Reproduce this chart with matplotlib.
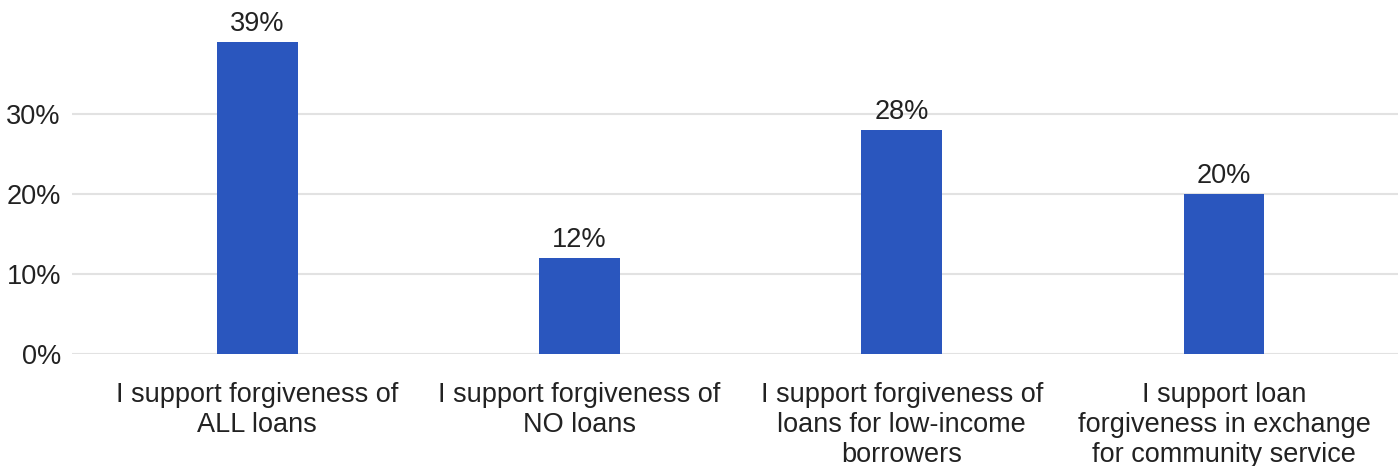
import matplotlib.pyplot as plt

# Survey responses on student loan forgiveness
categories = [
    "I support forgiveness of\nALL loans",
    "I support forgiveness of\nNO loans",
    "I support forgiveness of\nloans for low-income\nborrowers",
    "I support loan\nforgiveness in exchange\nfor community service",
]
shares = [39, 12, 28, 20]
y_ticks = [0, 10, 20, 30]

plt.rcParams['font.family'] = ['Liberation Sans', 'DejaVu Sans']

W, H = 1398, 466
fig = plt.figure(figsize=(W / 100, H / 100), dpi=100)
# axes box in pixels: left edge at gridline start, 0% line at y=354
ax = fig.add_axes([72 / W, (H - 354) / H, (W - 72) / W, 320 / H])

bar_color = "#2a56be"
text_color = "#222222"
fs = 19.5

x = list(range(len(categories)))
bars = ax.bar(x, shares, width=0.25, color=bar_color, zorder=3)

for b, v in zip(bars, shares):
    ax.text(b.get_x() + b.get_width() / 2, v + 0.6, f"{v}%",
            ha="center", va="bottom", fontsize=fs, color=text_color,
            clip_on=False)

ax.set_xlim(-0.575, 3.54)
ax.set_ylim(0, 40)
ax.set_yticks(y_ticks)
ax.set_yticklabels([f"{t}%" for t in y_ticks])
ax.set_xticks(x)
ax.set_xticklabels(categories, linespacing=1.2)

ax.grid(axis="y", color="#e2e2e2", linewidth=1.5, zorder=0)
ax.tick_params(axis="y", length=0, pad=8, labelsize=fs, labelcolor=text_color)
ax.tick_params(axis="x", length=0, pad=20, labelsize=fs, labelcolor=text_color)
for s in ax.spines.values():
    s.set_visible(False)

fig.savefig("out.png", dpi=100)
